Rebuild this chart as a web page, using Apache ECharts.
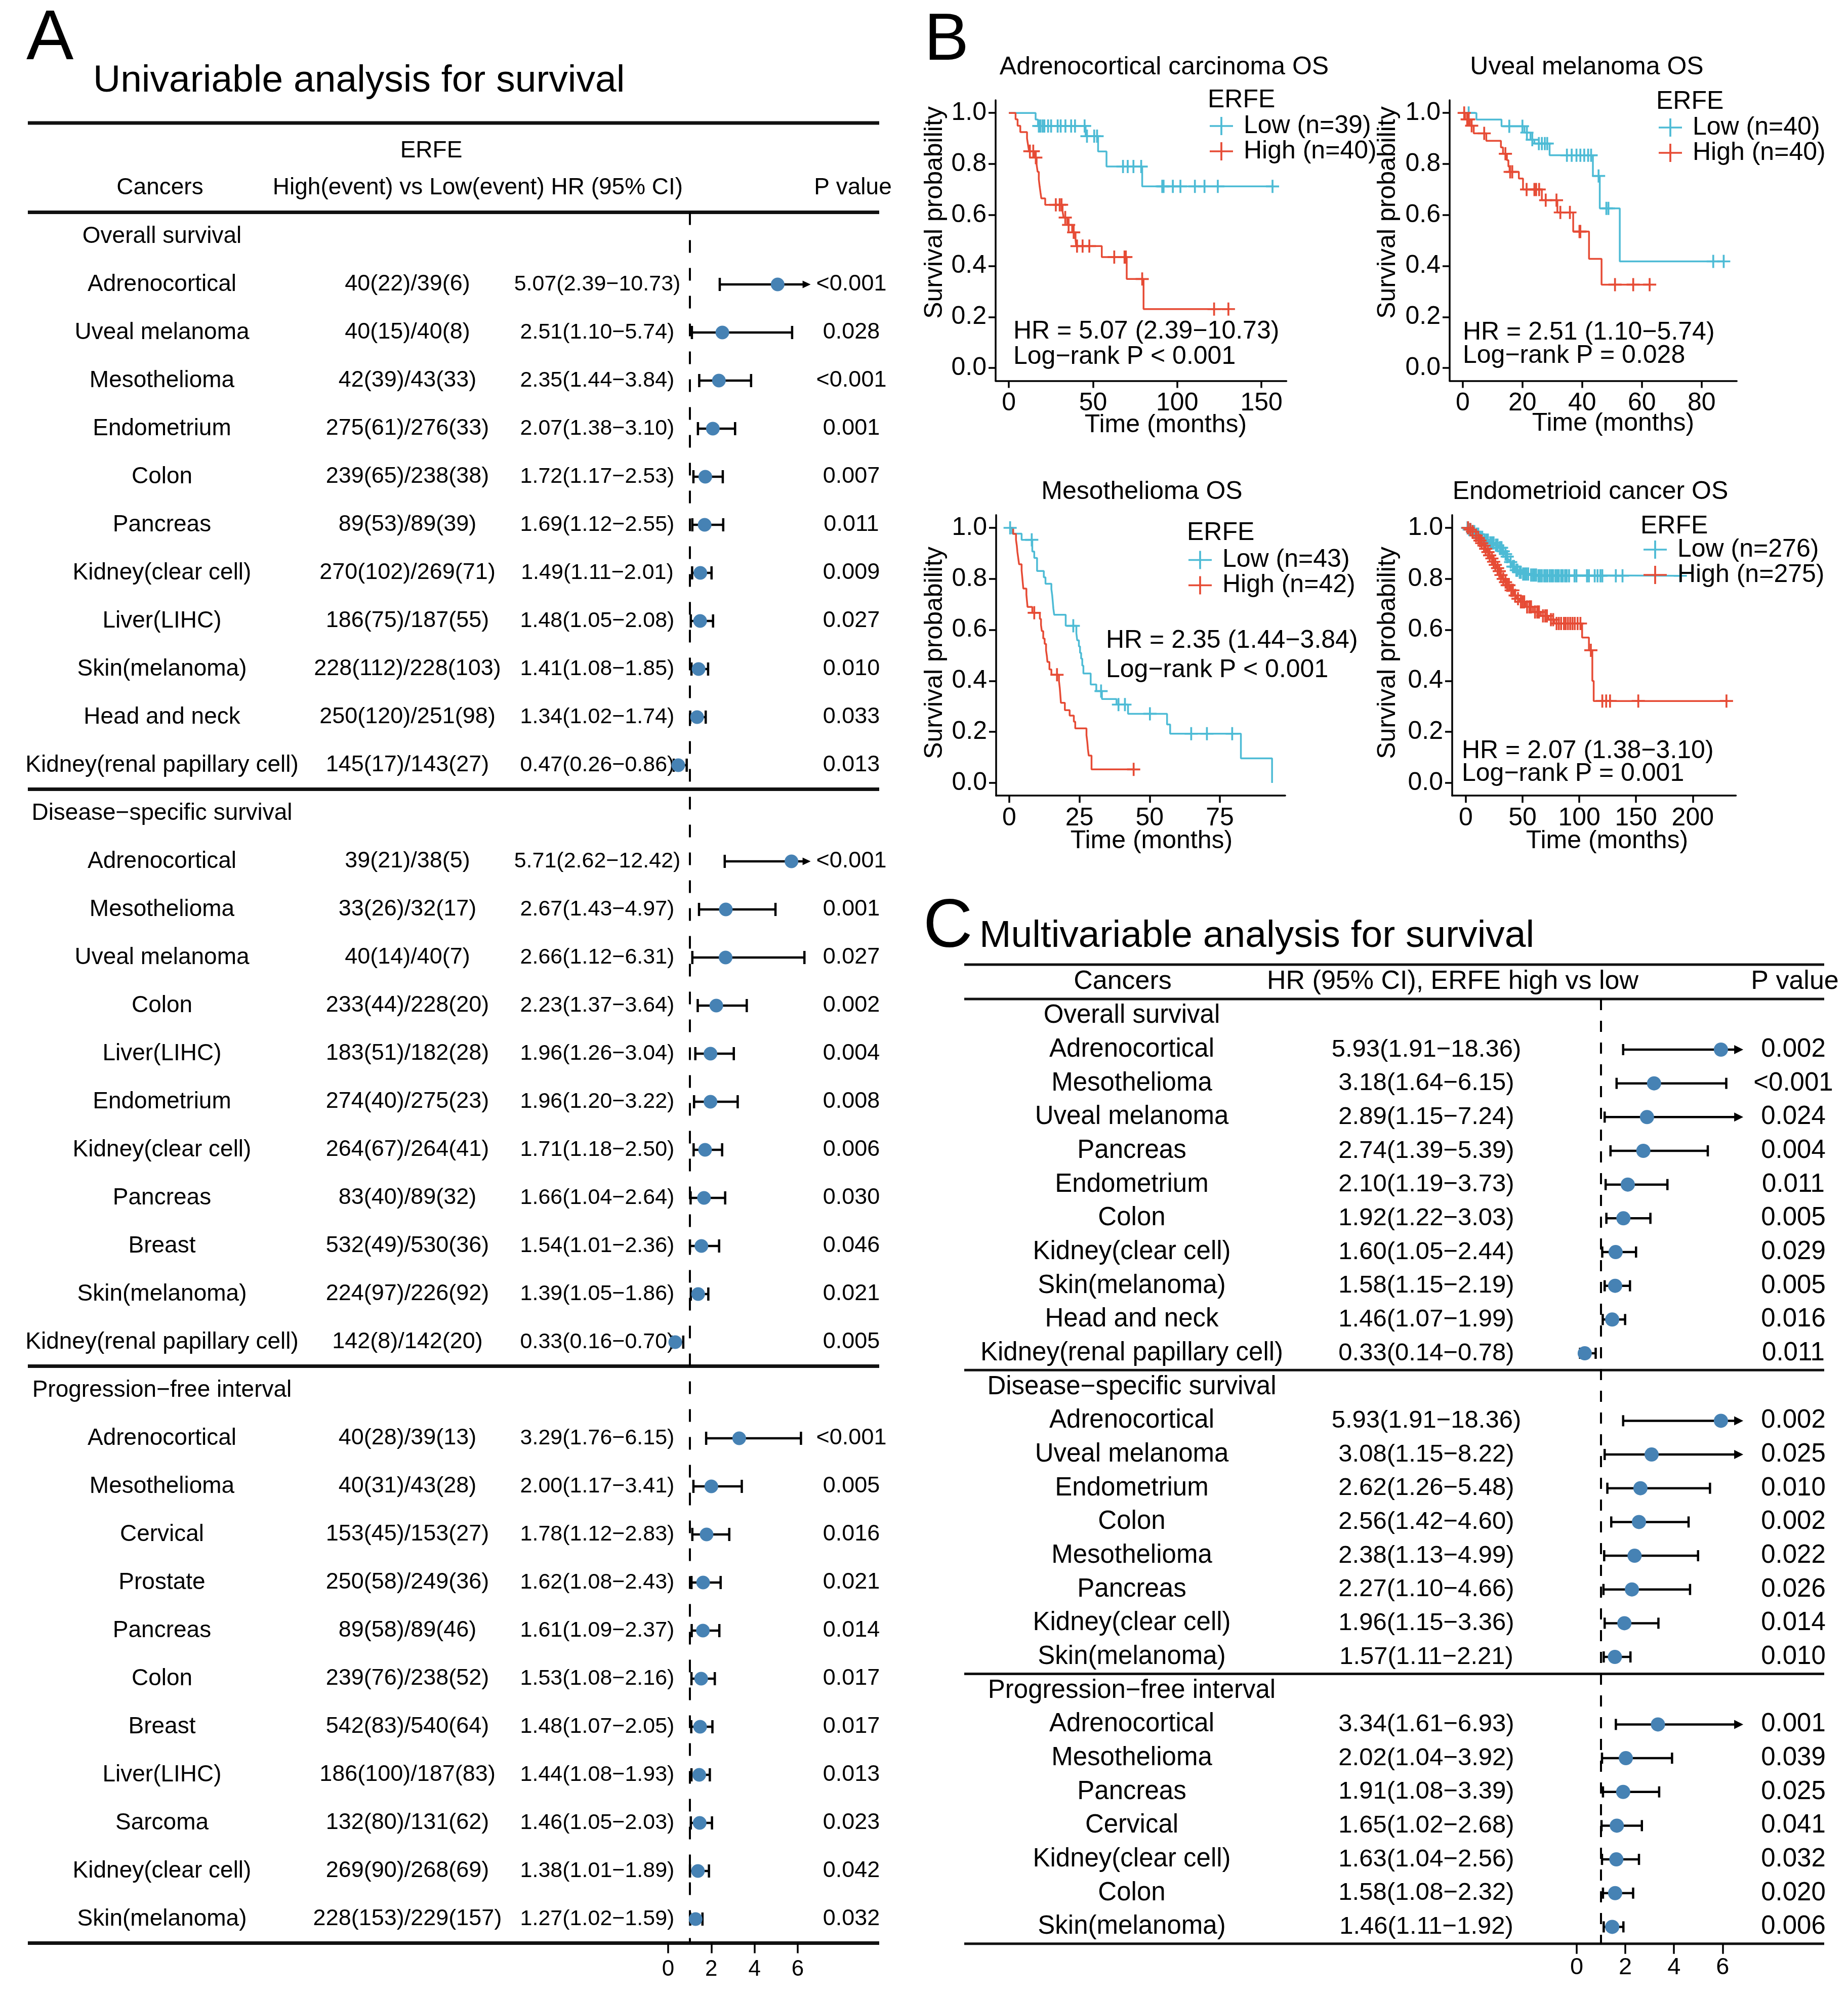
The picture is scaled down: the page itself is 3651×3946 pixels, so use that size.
<!DOCTYPE html>
<html><head><meta charset="utf-8">
<script src="https://cdn.jsdelivr.net/npm/echarts@6/dist/echarts.min.js"></script>
<style>html,body{margin:0;padding:0;background:#fff}#c{width:3651px;height:3946px}</style>
</head><body><div id="c"></div>
<script>
const FONT = 'Liberation Sans, Arial, Helvetica, sans-serif';

// ---------- Panel A : univariable ----------
const osNames = ['Adrenocortical','Uveal melanoma','Mesothelioma','Endometrium','Colon','Pancreas','Kidney(clear cell)','Liver(LIHC)','Skin(melanoma)','Head and neck','Kidney(renal papillary cell)'];
const osEvents = ['40(22)/39(6)','40(15)/40(8)','42(39)/43(33)','275(61)/276(33)','239(65)/238(38)','89(53)/89(39)','270(102)/269(71)','186(75)/187(55)','228(112)/228(103)','250(120)/251(98)','145(17)/143(27)'];
const osHR = [5.07,2.51,2.35,2.07,1.72,1.69,1.49,1.48,1.41,1.34,0.47];
const osLo = [2.39,1.10,1.44,1.38,1.17,1.12,1.11,1.05,1.08,1.02,0.26];
const osHi = [10.73,5.74,3.84,3.10,2.53,2.55,2.01,2.08,1.85,1.74,0.86];
const osP = ['<0.001','0.028','<0.001','0.001','0.007','0.011','0.009','0.027','0.010','0.033','0.013'];

const dssNames = ['Adrenocortical','Mesothelioma','Uveal melanoma','Colon','Liver(LIHC)','Endometrium','Kidney(clear cell)','Pancreas','Breast','Skin(melanoma)','Kidney(renal papillary cell)'];
const dssEvents = ['39(21)/38(5)','33(26)/32(17)','40(14)/40(7)','233(44)/228(20)','183(51)/182(28)','274(40)/275(23)','264(67)/264(41)','83(40)/89(32)','532(49)/530(36)','224(97)/226(92)','142(8)/142(20)'];
const dssHR = [5.71,2.67,2.66,2.23,1.96,1.96,1.71,1.66,1.54,1.39,0.33];
const dssLo = [2.62,1.43,1.12,1.37,1.26,1.20,1.18,1.04,1.01,1.05,0.16];
const dssHi = [12.42,4.97,6.31,3.64,3.04,3.22,2.50,2.64,2.36,1.86,0.70];
const dssP = ['<0.001','0.001','0.027','0.002','0.004','0.008','0.006','0.030','0.046','0.021','0.005'];

const pfiNames = ['Adrenocortical','Mesothelioma','Cervical','Prostate','Pancreas','Colon','Breast','Liver(LIHC)','Sarcoma','Kidney(clear cell)','Skin(melanoma)'];
const pfiEvents = ['40(28)/39(13)','40(31)/43(28)','153(45)/153(27)','250(58)/249(36)','89(58)/89(46)','239(76)/238(52)','542(83)/540(64)','186(100)/187(83)','132(80)/131(62)','269(90)/268(69)','228(153)/229(157)'];
const pfiHR = [3.29,2.00,1.78,1.62,1.61,1.53,1.48,1.44,1.46,1.38,1.27];
const pfiLo = [1.76,1.17,1.12,1.08,1.09,1.08,1.07,1.08,1.05,1.01,1.02];
const pfiHi = [6.15,3.41,2.83,2.43,2.37,2.16,2.05,1.93,2.03,1.89,1.59];
const pfiP = ['<0.001','0.005','0.016','0.021','0.014','0.017','0.017','0.013','0.023','0.042','0.032'];

const sectionTitles = ['Overall survival','Disease−specific survival','Progression−free interval'];
const forestTicks = [0,2,4,6];

// ---------- Panel C : multivariable ----------
const mOsNames = ['Adrenocortical','Mesothelioma','Uveal melanoma','Pancreas','Endometrium','Colon','Kidney(clear cell)','Skin(melanoma)','Head and neck','Kidney(renal papillary cell)'];
const mOsHR = [5.93,3.18,2.89,2.74,2.10,1.92,1.60,1.58,1.46,0.33];
const mOsLo = [1.91,1.64,1.15,1.39,1.19,1.22,1.05,1.15,1.07,0.14];
const mOsHi = [18.36,6.15,7.24,5.39,3.73,3.03,2.44,2.19,1.99,0.78];
const mOsP = ['0.002','<0.001','0.024','0.004','0.011','0.005','0.029','0.005','0.016','0.011'];

const mDssNames = ['Adrenocortical','Uveal melanoma','Endometrium','Colon','Mesothelioma','Pancreas','Kidney(clear cell)','Skin(melanoma)'];
const mDssHR = [5.93,3.08,2.62,2.56,2.38,2.27,1.96,1.57];
const mDssLo = [1.91,1.15,1.26,1.42,1.13,1.10,1.15,1.11];
const mDssHi = [18.36,8.22,5.48,4.60,4.99,4.66,3.36,2.21];
const mDssP = ['0.002','0.025','0.010','0.002','0.022','0.026','0.014','0.010'];

const mPfiNames = ['Adrenocortical','Mesothelioma','Pancreas','Cervical','Kidney(clear cell)','Colon','Skin(melanoma)'];
const mPfiHR = [3.34,2.02,1.91,1.65,1.63,1.58,1.46];
const mPfiLo = [1.61,1.04,1.08,1.02,1.04,1.08,1.11];
const mPfiHi = [6.93,3.92,3.39,2.68,2.56,2.32,1.92];
const mPfiP = ['0.001','0.039','0.025','0.041','0.032','0.020','0.006'];

// ---------- Panel B : Kaplan-Meier (time in months, survival) ----------
const accLowSteps = [[0,1],[15.9,0.974],[17.3,0.949],[45.6,0.909],[53.0,0.849],[58.0,0.790],[79.2,0.712],[156.6,0.712]];
const accLowCens = [[17.8,0.949],[18.8,0.949],[20.1,0.949],[21.1,0.949],[23.3,0.949],[25.1,0.949],[29.0,0.949],[30.8,0.949],[33.6,0.949],[37.0,0.949],[39.3,0.949],[45.0,0.949],[46.4,0.909],[50.7,0.909],[52.4,0.909],[67.8,0.790],[70.6,0.790],[74.0,0.790],[78.6,0.790],[91.1,0.712],[91.9,0.712],[97.4,0.712],[101.9,0.712],[110.5,0.712],[116.2,0.712],[124.1,0.712],[156.6,0.712]];
const accHighSteps = [[0,1],[4.0,0.975],[5.2,0.950],[6.8,0.925],[10.8,0.900],[11.4,0.875],[12.0,0.850],[15.4,0.825],[16.5,0.797],[17.1,0.769],[17.8,0.740],[18.3,0.712],[18.8,0.688],[19.3,0.665],[21.6,0.640],[31.9,0.615],[32.5,0.590],[34.7,0.561],[37.6,0.532],[39.6,0.505],[40.0,0.478],[55.2,0.435],[70.0,0.349],[80.0,0.231],[130.4,0.231]];
const accHighCens = [[12.5,0.850],[14.5,0.850],[16.0,0.825],[27.9,0.640],[30.2,0.640],[31.3,0.640],[33.5,0.590],[35.5,0.561],[38.5,0.532],[40.5,0.478],[43.8,0.478],[47.8,0.478],[62.6,0.435],[68.7,0.435],[69.5,0.435],[79.2,0.349],[121.9,0.231],[130.4,0.231]];

const uvmLowSteps = [[0,1],[4.6,0.974],[13.0,0.948],[20.7,0.923],[22.7,0.895],[24.0,0.880],[29.1,0.834],[43.6,0.753],[45.9,0.626],[52.6,0.418],[87.4,0.418]];
const uvmLowCens = [[2.0,1.000],[15.6,0.948],[20.0,0.948],[21.5,0.923],[23.3,0.895],[25.5,0.880],[26.5,0.880],[27.5,0.880],[28.3,0.880],[34.9,0.834],[36.5,0.834],[38.1,0.834],[39.4,0.834],[40.7,0.834],[42.0,0.834],[43.0,0.834],[45.5,0.753],[48.1,0.626],[48.8,0.626],[83.9,0.418],[87.4,0.418]];
const uvmHighSteps = [[0,1],[0.8,0.975],[2.4,0.950],[3.7,0.920],[7.9,0.891],[12.8,0.865],[13.5,0.840],[14.8,0.815],[15.3,0.790],[15.7,0.769],[18.8,0.743],[20.2,0.700],[26.5,0.658],[31.7,0.610],[37.0,0.535],[42.3,0.428],[46.5,0.327],[62.6,0.327]];
const uvmHighCens = [[0.5,1.000],[1.5,0.975],[2.0,0.975],[3.0,0.950],[7.2,0.920],[14.3,0.840],[15.9,0.769],[16.6,0.769],[21.4,0.700],[24.0,0.700],[24.6,0.700],[25.6,0.700],[27.8,0.658],[31.4,0.658],[32.7,0.610],[35.9,0.610],[39.1,0.535],[39.4,0.535],[51.0,0.327],[57.1,0.327],[62.6,0.327]];

const mesoLowSteps = [[0,1],[1.0,0.977],[4.4,0.953],[8.2,0.907],[8.9,0.882],[9.9,0.831],[12.3,0.806],[12.9,0.781],[15.0,0.760],[15.3,0.735],[15.5,0.710],[15.7,0.684],[16.0,0.659],[20.1,0.616],[23.9,0.587],[24.2,0.559],[24.8,0.535],[25.2,0.510],[25.6,0.487],[26.0,0.460],[26.4,0.429],[29.0,0.386],[31.0,0.360],[33.0,0.329],[38.2,0.307],[42.3,0.271],[56.2,0.229],[57.3,0.193],[82.5,0.096],[93.6,0.000]];
const mesoLowCens = [[0.3,1.000],[8.0,0.953],[22.8,0.616],[32.7,0.360],[38.9,0.307],[41.2,0.307],[50.1,0.271],[64.8,0.193],[70.4,0.193],[79.4,0.193]];
const mesoHighSteps = [[0,1],[1.4,0.976],[2.4,0.953],[2.7,0.929],[2.9,0.905],[3.2,0.881],[3.5,0.857],[4.4,0.833],[4.6,0.810],[4.8,0.786],[5.0,0.762],[6.1,0.738],[6.3,0.714],[6.5,0.690],[8.2,0.667],[10.9,0.643],[11.3,0.619],[11.6,0.595],[12.1,0.566],[12.6,0.545],[13.1,0.520],[13.4,0.497],[13.6,0.474],[14.3,0.445],[15.0,0.424],[17.7,0.400],[18.0,0.371],[18.2,0.343],[18.4,0.314],[19.8,0.285],[21.5,0.264],[23.0,0.240],[23.5,0.214],[27.5,0.187],[27.8,0.160],[28.0,0.134],[28.3,0.107],[29.3,0.053],[44.3,0.053]];
const mesoHighCens = [[8.9,0.667],[17.0,0.424],[44.3,0.053]];

const ucecLowSteps = [[0,1],[2.5,0.993],[5.0,0.985],[8.5,0.975],[12.0,0.963],[15.3,0.952],[20.3,0.941],[25.4,0.932],[28.8,0.922],[32.2,0.908],[34.0,0.897],[35.6,0.887],[37.0,0.876],[38.1,0.866],[40.7,0.848],[43.2,0.834],[46.6,0.826],[49.2,0.819],[56.0,0.815],[62.7,0.812],[189.0,0.812]];
const ucecLowCens = [[1.5,1.000],[3.0,0.993],[4.2,0.993],[6.0,0.985],[7.5,0.985],[9.5,0.975],[11.0,0.975],[13.0,0.963],[14.5,0.963],[16.5,0.952],[18.0,0.952],[19.5,0.952],[21.5,0.941],[23.0,0.941],[24.5,0.941],[26.5,0.932],[28.0,0.932],[30.0,0.922],[31.5,0.922],[33.0,0.908],[35.0,0.897],[36.5,0.887],[39.5,0.866],[41.5,0.848],[42.5,0.848],[44.5,0.834],[45.5,0.834],[47.5,0.826],[48.5,0.826],[50.5,0.819],[52.0,0.819],[53.5,0.819],[55.0,0.819],[57.5,0.815],[59.0,0.815],[60.5,0.815],[62.0,0.815],[64.0,0.812],[65.5,0.812],[67.0,0.812],[69.0,0.812],[70.5,0.812],[72.0,0.812],[74.0,0.812],[75.5,0.812],[77.0,0.812],[79.0,0.812],[80.5,0.812],[82.0,0.812],[84.0,0.812],[85.5,0.812],[87.5,0.812],[89.0,0.812],[91.0,0.812],[95.8,0.812],[97.5,0.812],[106.8,0.812],[108.5,0.812],[113.6,0.812],[116.1,0.812],[118.6,0.812],[120.3,0.812],[132.2,0.812],[138.1,0.812],[189.0,0.812]];
const ucecHighSteps = [[0,1],[3.0,0.993],[5.1,0.985],[7.0,0.977],[8.5,0.970],[10.0,0.960],[11.9,0.950],[13.5,0.940],[15.3,0.930],[17.0,0.918],[18.6,0.905],[20.3,0.892],[22.0,0.880],[23.7,0.867],[25.4,0.855],[27.0,0.842],[28.8,0.830],[30.5,0.815],[32.2,0.800],[34.0,0.787],[35.6,0.775],[39.0,0.755],[42.4,0.735],[45.0,0.722],[47.5,0.710],[52.5,0.690],[59.3,0.670],[66.1,0.655],[72.9,0.640],[78.0,0.625],[102.5,0.570],[108.5,0.520],[111.5,0.400],[112.7,0.321],[229.7,0.321]];
const ucecHighCens = [[2.0,1.000],[4.0,0.993],[6.0,0.985],[9.0,0.970],[11.0,0.960],[12.5,0.950],[14.0,0.940],[16.0,0.930],[17.5,0.918],[19.5,0.905],[21.0,0.892],[23.0,0.880],[24.5,0.867],[26.0,0.855],[28.0,0.842],[29.5,0.830],[31.0,0.815],[33.0,0.800],[35.0,0.787],[36.5,0.775],[38.0,0.775],[40.0,0.755],[41.5,0.755],[43.5,0.735],[46.0,0.722],[48.5,0.710],[50.0,0.710],[51.5,0.710],[54.0,0.690],[56.0,0.690],[57.5,0.690],[61.0,0.670],[63.0,0.670],[64.5,0.670],[68.0,0.655],[70.0,0.655],[71.5,0.655],[75.0,0.640],[77.0,0.640],[80.0,0.625],[82.0,0.625],[84.0,0.625],[86.5,0.625],[88.0,0.625],[90.0,0.625],[92.0,0.625],[94.0,0.625],[96.0,0.625],[98.5,0.625],[101.0,0.625],[110.2,0.520],[120.3,0.321],[123.7,0.321],[127.1,0.321],[152.0,0.321],[229.7,0.321]];

const kmTitles = ['Adrenocortical carcinoma OS','Uveal melanoma OS','Mesothelioma OS','Endometrioid cancer OS'];
const kmLowNames = ['Low (n=39)','Low (n=40)','Low (n=43)','Low (n=276)'];
const kmHighNames = ['High (n=40)','High (n=40)','High (n=42)','High (n=275)'];
const kmHRText = ['HR = 5.07 (2.39−10.73)','HR = 2.51 (1.10−5.74)','HR = 2.35 (1.44−3.84)','HR = 2.07 (1.38−3.10)'];
const kmPText = ['Log−rank P < 0.001','Log−rank P = 0.028','Log−rank P < 0.001','Log−rank P = 0.001'];
const kmXTicks = [[0,50,100,150],[0,20,40,60,80],[0,25,50,75],[0,50,100,150,200]];
const kmYTicks = [0,0.2,0.4,0.6,0.8,1.0];
const kmLow = [[accLowSteps,accLowCens],[uvmLowSteps,uvmLowCens],[mesoLowSteps,mesoLowCens],[ucecLowSteps,ucecLowCens]];
const kmHigh = [[accHighSteps,accHighCens],[uvmHighSteps,uvmHighCens],[mesoHighSteps,mesoHighCens],[ucecHighSteps,ucecHighCens]];

// ---------- layout (positions/sizes/styles) ----------
const COL_LOW = '#4DBBD5', COL_HIGH = '#E64B35', DOT = '#4682B4';
const kmLayout = [
  {left:1967, top:198, width:574.5, height:554.4, xmin:-7.85, xmax:164.85,
   title:[2300,133], ylab:[1847,420], xlab:[2303,840], erfe:[2386,198], leg:[2390,224,48], ann:[2002,655,705]},
  {left:2864, top:198, width:567.2, height:554.4, xmin:-4.37, xmax:91.77,
   title:[3135,133], ylab:[2742,420], xlab:[3187,837], erfe:[3272,201], leg:[3277,227,44], ann:[2890,657,703]},
  {left:1968, top:1017.8, width:571.1, height:554.4, xmin:-4.68, xmax:98.28,
   title:[2256,972], ylab:[1847,1290], xlab:[2275,1662], erfe:[2345,1053], leg:[2348,1081.5,47], ann:[2185,1266,1324]},
  {left:2869, top:1017.8, width:560.5, height:554.4, xmin:-12, xmax:238,
   title:[3142,972], ylab:[2742,1290], xlab:[3175,1662], erfe:[3241,1040], leg:[3247,1061,44], ann:[2888,1484,1529]}
];
const A = {left:1320, top:419.5, rowH:95, xmax:6.6, unit:42.67};
const C = {left:3115, top:1974, rowH:66.67, xmax:6.85, unit:48.05};

function fmt(v){ return v.toFixed(2); }
function buildTable(sections){
  const names=[], events=[], hr=[], p=[], ci=[], dots=[];
  sections.forEach(s=>{
    names.push(s.title); events.push(''); hr.push(''); p.push('');
    s.names.forEach((n,i)=>{
      const r = names.length;
      names.push(n); events.push(s.events ? s.events[i] : '');
      hr.push(fmt(s.hr[i])+'('+fmt(s.lo[i])+'−'+fmt(s.hi[i])+')');
      p.push(s.p[i]);
      ci.push([s.lo[i], s.hi[i], r]);
      dots.push([s.hr[i], r]);
    });
  });
  return {names, events, hr, p, ci, dots};
}
const tA = buildTable([
  {title:sectionTitles[0], names:osNames, events:osEvents, hr:osHR, lo:osLo, hi:osHi, p:osP},
  {title:sectionTitles[1], names:dssNames, events:dssEvents, hr:dssHR, lo:dssLo, hi:dssHi, p:dssP},
  {title:sectionTitles[2], names:pfiNames, events:pfiEvents, hr:pfiHR, lo:pfiLo, hi:pfiHi, p:pfiP}
]);
const tC = buildTable([
  {title:sectionTitles[0], names:mOsNames, hr:mOsHR, lo:mOsLo, hi:mOsHi, p:mOsP},
  {title:sectionTitles[1], names:mDssNames, hr:mDssHR, lo:mDssLo, hi:mDssHi, p:mDssP},
  {title:sectionTitles[2], names:mPfiNames, hr:mPfiHR, lo:mPfiLo, hi:mPfiHi, p:mPfiP}
]);

function ciRenderer(xmax, lw, capH, arrL, arrW){
  return function(params, api){
    const lo = api.value(0), hi = api.value(1), row = api.value(2);
    const a = api.coord([lo, row]);
    const over = hi > xmax;
    const b = api.coord([over ? xmax : hi, row]);
    const st = {stroke:'#000', lineWidth:lw};
    const ch = [
      {type:'line', shape:{x1:a[0], y1:a[1], x2: over ? b[0]-arrL*0.6 : b[0], y2:b[1]}, style:st},
      {type:'line', shape:{x1:a[0], y1:a[1]-capH/2, x2:a[0], y2:a[1]+capH/2}, style:st}
    ];
    if (over) ch.push({type:'polygon', shape:{points:[[b[0],b[1]],[b[0]-arrL,b[1]-arrW/2],[b[0]-arrL,b[1]+arrW/2]]}, style:{fill:'#000'}});
    else ch.push({type:'line', shape:{x1:b[0], y1:b[1]-capH/2, x2:b[0], y2:b[1]+capH/2}, style:st});
    return {type:'group', children:ch};
  };
}

function colAxis(grid, data, offset, pos, fs){
  return {type:'category', gridIndex:grid, data:data, inverse:true, position:pos, offset:offset,
    axisLine:{show:false}, axisTick:{show:false}, splitLine:{show:false},
    axisLabel:{interval:0, align:'center', margin:0, fontSize:fs, color:'#000', fontFamily:FONT}};
}
function forestX(grid, xmax, fs, margin){
  return {type:'value', gridIndex:grid, min:0, max:xmax, splitLine:{show:false}, axisLine:{show:false},
    axisTick:{show:true, customValues:forestTicks, length:20, lineStyle:{color:'#000', width:3.5}},
    axisLabel:{customValues:forestTicks, fontSize:fs, color:'#000', margin:margin, fontFamily:FONT}};
}

const grids = [
  {left:A.left, top:A.top, width:A.xmax*A.unit, height:tA.names.length*A.rowH, containLabel:false, outerBoundsMode:'none'},
  {left:C.left, top:C.top, width:C.xmax*C.unit, height:tC.names.length*C.rowH, containLabel:false, outerBoundsMode:'none'}
];
kmLayout.forEach(L=>grids.push({left:L.left, top:L.top, width:L.width, height:L.height, containLabel:false, outerBoundsMode:'none'}));

const xAxes = [forestX(0, A.xmax, 44, 30), forestX(1, C.xmax, 47, 24)];
const yAxes = [
  colAxis(0, tA.names, A.left-320, 'left', 46),
  colAxis(0, tA.events, A.left-805, 'left', 45),
  colAxis(0, tA.hr, A.left-1180, 'left', 43),
  colAxis(0, tA.p, 1682-(A.left+A.xmax*A.unit), 'right', 45),
  colAxis(1, tC.names, C.left-2236, 'left', 51),
  colAxis(1, tC.hr, C.left-2818, 'left', 49),
  colAxis(1, tC.p, 3543-(C.left+C.xmax*C.unit), 'right', 51)
];
kmLayout.forEach((L,k)=>{
  xAxes.push({type:'value', gridIndex:k+2, min:L.xmin, max:L.xmax, splitLine:{show:false},
    axisLine:{show:true, onZero:false, lineStyle:{color:'#000', width:3.5}},
    axisTick:{show:true, customValues:kmXTicks[k], length:14, lineStyle:{color:'#000', width:3.5}},
    axisLabel:{customValues:kmXTicks[k], fontSize:50, color:'#000', margin:20, fontFamily:FONT}});
  yAxes.push({type:'value', gridIndex:k+2, min:-0.05, max:1.05, splitLine:{show:false},
    axisLine:{show:true, onZero:false, lineStyle:{color:'#000', width:3.5}},
    axisTick:{show:true, customValues:kmYTicks, length:14, lineStyle:{color:'#000', width:3.5}},
    axisLabel:{customValues:kmYTicks, fontSize:50, color:'#000', margin:18, fontFamily:FONT, formatter:v=>Number(v).toFixed(1)}});
});

const series = [
  {type:'custom', name:'ciA', xAxisIndex:0, yAxisIndex:0, data:tA.ci, encode:{x:[0,1], y:2}, z:2, silent:true,
   renderItem:ciRenderer(A.xmax, 4.5, 26, 16, 15)},
  {type:'scatter', name:'hrA', xAxisIndex:0, yAxisIndex:0, data:tA.dots, symbolSize:27, z:3, silent:true,
   itemStyle:{color:DOT, opacity:1},
   markLine:{silent:true, symbol:['none','none'], label:{show:false}, z:1,
     lineStyle:{color:'#000', width:4, type:[25,30]}, data:[{xAxis:1}]}},
  {type:'custom', name:'ciC', xAxisIndex:1, yAxisIndex:4, data:tC.ci, encode:{x:[0,1], y:2}, z:2, silent:true,
   renderItem:ciRenderer(C.xmax, 4.5, 22, 18, 18)},
  {type:'scatter', name:'hrC', xAxisIndex:1, yAxisIndex:4, data:tC.dots, symbolSize:28, z:3, silent:true,
   itemStyle:{color:DOT, opacity:1},
   markLine:{silent:true, symbol:['none','none'], label:{show:false}, z:1,
     lineStyle:{color:'#000', width:4, type:[22,21]}, data:[{xAxis:1}]}}
];
const PLUS = 'path://M0,10.3H24V13.7H0Z M10.3,0H13.7V24H10.3Z';
const LEG_ICON = 'path://M0,11.2H32V13.8H0Z M14.7,0H17.3V25H14.7Z';
kmLayout.forEach((L,k)=>{
  [[kmLowNames[k], kmLow[k], COL_LOW],[kmHighNames[k], kmHigh[k], COL_HIGH]].forEach(([nm, d, col])=>{
    series.push({type:'line', name:nm, xAxisIndex:k+2, yAxisIndex:k+7, data:d[0], step:'end', showSymbol:false,
      silent:true, z:2, lineStyle:{color:col, width:3.5}, itemStyle:{color:col}});
    series.push({type:'scatter', name:nm, xAxisIndex:k+2, yAxisIndex:k+7, data:d[1], symbol:PLUS, symbolSize:[26,26],
      silent:true, z:3, itemStyle:{color:col, opacity:1}});
  });
});

const legends = kmLayout.map((L,k)=>({
  show:true, orient:'vertical', left:L.leg[0], top:L.leg[1], itemGap:0, itemWidth:46, itemHeight:36, padding:0,
  icon:LEG_ICON, selectedMode:false, data:[kmLowNames[k], kmHighNames[k]],
  textStyle:{fontSize:50, color:'#000', fontFamily:FONT, lineHeight:L.leg[2], padding:[0,0,0,16]}
}));

// ---------- graphic: letters, titles, headers, table rules ----------
function txt(x, y, s, fs, align, extra){
  return Object.assign({type:'text', x:x, y:y, silent:true,
    style:{text:s, fontSize:fs, fontFamily:FONT, fill:'#000', align:align||'center', verticalAlign:'middle'}}, extra||{});
}
function rule(x1, x2, y, w){
  return {type:'line', silent:true, shape:{x1:x1, y1:y, x2:x2, y2:y}, style:{stroke:'#111', lineWidth:w}};
}
const G = [];
// Panel A
G.push(txt(52, 78, 'A', 140, 'left'));
G.push(txt(184, 160, 'Univariable analysis for survival', 75, 'left'));
G.push(rule(55, 1737, 243, 7));
G.push(txt(852, 298, 'ERFE', 46));
G.push(txt(316, 371, 'Cancers', 46));
G.push(txt(944, 371, 'High(event) vs Low(event) HR (95% CI)', 46));
G.push(txt(1685, 371, 'P value', 46));
const aBreaks = [0, 1+osNames.length, 2+osNames.length+dssNames.length, tA.names.length];
aBreaks.forEach(b=>G.push(rule(55, 1737, A.top + b*A.rowH, 7)));
// Panel C
G.push(txt(1824, 1834, 'C', 135, 'left'));
G.push(txt(1935, 1850, 'Multivariable analysis for survival', 75, 'left'));
G.push(rule(1905, 3604, 1906, 5));
G.push(txt(2218, 1940, 'Cancers', 52));
G.push(txt(2870, 1940, 'HR (95% CI), ERFE high vs low', 52));
G.push(txt(3546, 1940, 'P value', 52));
const cBreaks = [0, 1+mOsNames.length, 2+mOsNames.length+mDssNames.length, tC.names.length];
cBreaks.forEach(b=>G.push(rule(1905, 3604, C.top + b*C.rowH, 5)));
// Panel B
G.push(txt(1826, 82, 'B', 132, 'left'));
kmLayout.forEach((L,k)=>{
  G.push(txt(L.title[0], L.title[1], kmTitles[k], 50));
  G.push(txt(L.ylab[0], L.ylab[1], 'Survival probability', 50, 'center', {rotation:Math.PI/2}));
  G.push(txt(L.xlab[0], L.xlab[1], 'Time (months)', 50));
  G.push(txt(L.erfe[0], L.erfe[1], 'ERFE', 50, 'left'));
  G.push(txt(L.ann[0], L.ann[1], kmHRText[k], 50, 'left'));
  G.push(txt(L.ann[0], L.ann[2], kmPText[k], 50, 'left'));
});

const option = {
  animation:false, backgroundColor:'#fff', textStyle:{fontFamily:FONT},
  tooltip:{show:false},
  grid:grids, xAxis:xAxes, yAxis:yAxes, legend:legends, series:series,
  graphic:{elements:G}
};
const chart = echarts.init(document.getElementById('c'), null, {renderer:'canvas'});
chart.setOption(option);
</script></body></html>
